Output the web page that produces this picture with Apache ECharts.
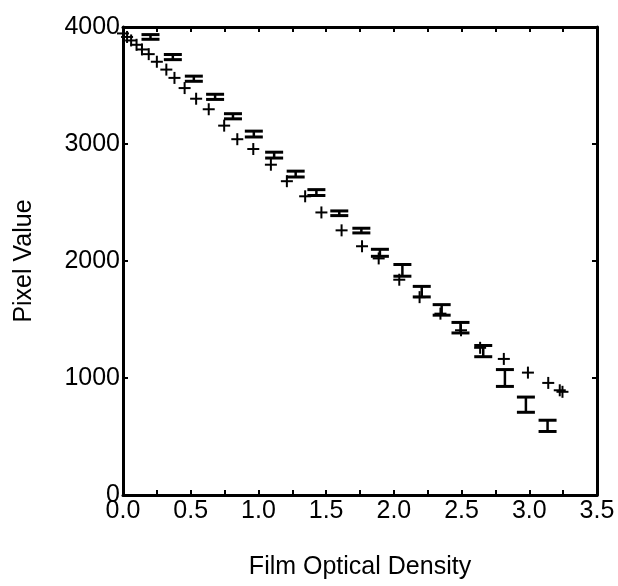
<!DOCTYPE html>
<html>
<head>
<meta charset="utf-8">
<script src="https://cdn.jsdelivr.net/npm/echarts@6/dist/echarts.min.js"></script>
<style>
  html, body { margin: 0; padding: 0; background: #fff; }
  #chart { width: 618px; height: 586px; }
</style>
</head>
<body>
<div id="chart"></div>
<script>
// "+" points
const plusX = [0.0, 0.03, 0.06, 0.1, 0.14, 0.19, 0.25, 0.32, 0.38, 0.455, 0.54, 0.633, 0.747, 0.844, 0.962,
  1.092, 1.21, 1.345, 1.465, 1.614, 1.765, 1.888, 2.04, 2.19, 2.344, 2.496, 2.637, 2.812, 2.99, 3.14, 3.225, 3.245]
const plusY = [3945, 3915, 3885, 3848, 3808, 3768, 3703, 3636, 3565, 3478, 3387, 3297, 3157, 3041, 2957,
  2823, 2682, 2553, 2415, 2262, 2126, 2022, 1840, 1691, 1550, 1408, 1258, 1163, 1046, 958, 895, 882]

// error bar points (center and half-height)
const barX = [0.203, 0.368, 0.523, 0.68, 0.812, 0.966, 1.116, 1.275, 1.428, 1.597, 1.76, 1.897, 2.063, 2.206,
  2.353, 2.492, 2.66, 2.82, 2.975, 3.135]
const barY = [3915, 3743, 3558, 3403, 3237, 3085, 2905, 2743, 2585, 2408, 2260, 2070, 1920, 1738, 1582, 1430,
  1230, 1000, 772, 591]
const barErr = [20, 22, 22, 22, 22, 25, 25, 25, 25, 20, 20, 30, 50, 45, 45, 45, 48, 72, 65, 48]

const xTicks = [0, 0.5, 1, 1.5, 2, 2.5, 3, 3.5]
const yTicks = [0, 1000, 2000, 3000, 4000]

const font = 'Liberation Sans, Arial, Helvetica, sans-serif'
const black = '#000'

const chart = echarts.init(document.getElementById('chart'))

function plusItem(params, api) {
  const p = api.coord([api.value(0), api.value(1)])
  const h = 6
  return {
    type: 'group',
    children: [
      { type: 'line', shape: { x1: p[0] - h, y1: p[1], x2: p[0] + h, y2: p[1] }, style: { stroke: black, lineWidth: 2 } },
      { type: 'line', shape: { x1: p[0], y1: p[1] - h, x2: p[0], y2: p[1] + h }, style: { stroke: black, lineWidth: 2 } }
    ]
  }
}

function barItem(params, api) {
  const x = api.value(0)
  const y = api.value(1)
  const e = api.value(2)
  const top = api.coord([x, y + e])
  const bot = api.coord([x, y - e])
  const w = 9
  return {
    type: 'group',
    children: [
      { type: 'line', shape: { x1: top[0] - w, y1: top[1], x2: top[0] + w, y2: top[1] }, style: { stroke: black, lineWidth: 3 } },
      { type: 'line', shape: { x1: bot[0] - w, y1: bot[1], x2: bot[0] + w, y2: bot[1] }, style: { stroke: black, lineWidth: 3 } },
      { type: 'line', shape: { x1: top[0], y1: top[1], x2: bot[0], y2: bot[1] }, style: { stroke: black, lineWidth: 2.5 } }
    ]
  }
}

const frameAxis = {
  type: 'value',
  axisLine: { show: true, onZero: false, lineStyle: { color: black, width: 3 } },
  axisTick: { show: true, inside: true, length: 5, lineStyle: { color: black, width: 2 } },
  splitLine: { show: false }
}

chart.setOption({
  backgroundColor: '#fff',
  animation: false,
  grid: { left: 123, right: 21, top: 27, bottom: 91 },
  xAxis: [
    Object.assign({}, frameAxis, {
      position: 'bottom',
      min: xTicks[0],
      max: xTicks[xTicks.length - 1],
      interval: 0.5,
      minorTick: { show: true, splitNumber: 2, length: 5, lineStyle: { color: black, width: 2 } },
      axisLabel: {
        color: black, fontSize: 25, fontFamily: font, margin: 4,
        formatter: v => v.toFixed(1)
      },
      name: 'Film Optical Density',
      nameLocation: 'middle',
      nameGap: 60,
      nameTextStyle: { color: black, fontSize: 25, fontFamily: font }
    }),
    Object.assign({}, frameAxis, {
      position: 'top',
      min: xTicks[0],
      max: xTicks[xTicks.length - 1],
      interval: 0.5,
      minorTick: { show: true, splitNumber: 2, length: 5, lineStyle: { color: black, width: 2 } },
      axisLabel: { show: false }
    })
  ],
  yAxis: [
    Object.assign({}, frameAxis, {
      position: 'left',
      min: yTicks[0],
      max: yTicks[yTicks.length - 1],
      interval: 1000,
      axisLabel: { color: black, fontSize: 25, fontFamily: font, margin: 3, formatter: v => String(v) },
      name: 'Pixel Value',
      nameLocation: 'middle',
      nameGap: 86,
      nameTextStyle: { color: black, fontSize: 25, fontFamily: font }
    }),
    Object.assign({}, frameAxis, {
      position: 'right',
      min: yTicks[0],
      max: yTicks[yTicks.length - 1],
      interval: 1000,
      axisLabel: { show: false }
    })
  ],
  series: [
    {
      type: 'custom',
      renderItem: plusItem,
      data: plusX.map((x, i) => [x, plusY[i]]),
      clip: false
    },
    {
      type: 'custom',
      renderItem: barItem,
      data: barX.map((x, i) => [x, barY[i], barErr[i]]),
      clip: false
    }
  ]
})
</script>
</body>
</html>
